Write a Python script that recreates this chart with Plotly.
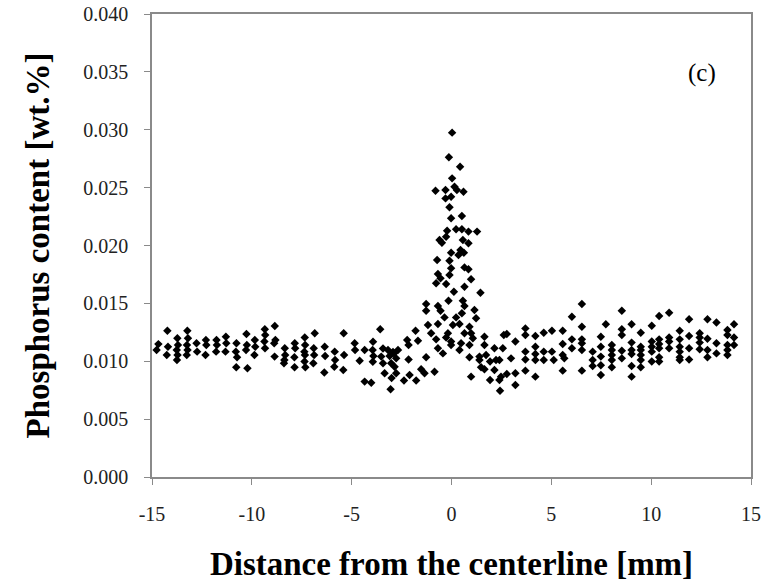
import plotly.graph_objects as go

# ---- data (distance [mm], phosphorus [wt.%]) ----
left_x = [-14.68, -14.77, -14.23, -14.20, -14.26, -13.73, -13.70, -13.76, -13.72, -13.75,
          -13.23, -13.20, -13.25, -13.22, -13.26, -12.77, -12.74, -12.30, -12.28, -12.32,
          -11.77, -11.75, -11.79, -11.30, -11.28, -11.32, -10.77, -10.80, -10.74, -10.78,
          -10.27, -10.25, -10.29, -10.22, -9.85, -9.83, -9.87, -9.35, -9.33, -9.37, -9.34,
          -8.85, -8.82, -8.88, -8.86, -8.35, -8.33, -8.37, -8.39, -7.85, -7.83, -7.87, -7.86,
          -7.35, -7.33, -7.37, -7.34, -7.36, -7.32]
left_y = [0.01148, 0.01097, 0.01264, 0.01126, 0.01054, 0.01198, 0.01140, 0.01097, 0.01054, 0.01011,
          0.01264, 0.01198, 0.01140, 0.01097, 0.01054, 0.01155, 0.01083, 0.01184, 0.01140, 0.01054,
          0.01184, 0.01140, 0.01083, 0.01212, 0.01155, 0.01083, 0.01155, 0.01083, 0.01034, 0.00948,
          0.01235, 0.01140, 0.01097, 0.00939, 0.01184, 0.01126, 0.01054, 0.01276, 0.01227, 0.01170, 0.01112,
          0.01305, 0.01184, 0.01155, 0.01040, 0.01112, 0.01054, 0.01011, 0.00982, 0.01155, 0.01112, 0.01034, 0.00948,
          0.01206, 0.01140, 0.01083, 0.01054, 0.00997, 0.00948]

mid_x = [-6.85, -6.90, -6.88, -6.92, -6.35, -6.33, -6.37, -5.85, -5.83, -5.87, -5.40, -5.38, -5.42,
         -4.85, -4.83, -4.35, -4.60, -4.35, -4.02, -3.93, -3.95, -3.91, -3.94, -3.52, -3.43, -3.35,
         -3.18, -3.10, -3.02, -2.88, -2.77, -2.85, -2.77, -2.68, -3.05, -2.38, -3.57,
         -3.43, -3.00, -2.93]
mid_y = [0.01241, 0.01112, 0.01054, 0.00982, 0.01126, 0.01045, 0.00902, 0.01083, 0.01011, 0.00953,
         0.01241, 0.01054, 0.00925, 0.01155, 0.01097, 0.01097, 0.01005, 0.00824, 0.00815, 0.01169,
         0.01097, 0.01045, 0.00996, 0.01040, 0.00982, 0.00896, 0.01097, 0.01045, 0.00982, 0.01068,
         0.01025, 0.00953, 0.00896, 0.01097, 0.00758, 0.00833, 0.01276, 0.01110, 0.00855, 0.01080]

peak_x = [0.03, -0.13, 0.43, 0.03, -0.80, -0.30, 0.15, 0.27, 0.60, -0.30, -0.02,
          -0.10, -0.02, 0.52, -0.22, 0.23, 0.52, 0.85, 1.28, -0.60, -0.48, -0.27, 0.57, 0.85,
          -0.02, 0.45, 0.62, 0.35, -0.72, -0.10, -0.02, 0.65, 0.85, -0.68, -0.55, -0.10, 0.98,
          -0.77, -0.27, 0.65, 0.12, 1.45, -1.27, -0.68, -0.15, 0.57, 0.65, -1.27, -0.55, 0.52,
          1.15, 1.23, -0.35, 0.23, -0.68, -1.18, 0.07, 0.40, 0.90, -1.80, -1.02, -0.18, 0.65,
          0.98, -0.27, -2.22, -1.68, -0.77, -0.02, 0.48, 1.07, 1.65, -2.15, -0.68, -0.02, 0.40,
          0.90, 1.65, 2.15, 2.57, -1.27, -0.43, 0.90, 1.40, 1.73, 2.62,
          -2.15, -2.10, -1.77, -1.52, -1.35, -0.85, 1.48, 1.65, 1.93, 2.15, 2.48, 2.40, 2.43,
          1.93, 0.98, 1.40, 2.23, 2.40]
peak_y = [0.02975, 0.02762, 0.02681, 0.02580, 0.02473, 0.02479, 0.02508, 0.02479, 0.02465, 0.02407, 0.02422,
          0.02330, 0.02235, 0.02255, 0.02128, 0.02140, 0.02140, 0.02120, 0.02120, 0.02048, 0.02024, 0.02076,
          0.02048, 0.02019, 0.01938, 0.01961, 0.01938, 0.01918, 0.01875, 0.01869, 0.01803, 0.01811, 0.01794,
          0.01754, 0.01716, 0.01745, 0.01708,
          0.01673, 0.01667, 0.01644, 0.01601, 0.01592, 0.01494, 0.01477, 0.01523, 0.01523, 0.01477, 0.01437,
          0.01437, 0.01414, 0.01443, 0.01371, 0.01379, 0.01379, 0.01321, 0.01313, 0.01313, 0.01321, 0.01298,
          0.01264, 0.01241, 0.01241, 0.01241, 0.01241, 0.01206, 0.01184, 0.01178, 0.01189, 0.01170, 0.01155,
          0.01198, 0.01212, 0.01140, 0.01112, 0.01140, 0.01097, 0.01140, 0.01140, 0.01112, 0.01112, 0.01034,
          0.01068, 0.01034, 0.01040, 0.01054, 0.01227,
          0.01016, 0.00882, 0.00833, 0.00930, 0.00896, 0.00910, 0.00948, 0.00930, 0.00997, 0.00925, 0.00867,
          0.00838, 0.00745, 0.00838, 0.00867, 0.01011, 0.01011, 0.01011]

right_x = [2.77, 2.98, 2.77, 3.20, 3.20, 3.20, 3.70, 3.70, 3.70, 3.70, 3.70, 4.20, 4.20, 4.20, 4.20, 4.20,
           4.62, 4.62, 4.62, 5.03, 5.03, 5.12, 5.57, 5.57, 5.57, 5.65, 5.57, 6.03, 6.03, 6.03,
           6.53, 6.53, 6.53, 6.53, 6.53, 6.53, 7.07, 7.07, 7.07,
           7.48, 7.48, 7.48, 7.48, 7.48, 7.73, 8.03, 8.03, 8.03, 8.03, 8.03,
           8.53, 8.53, 8.53, 8.53, 8.53, 9.02, 9.02, 9.02, 9.02, 9.02, 9.02,
           9.48, 9.48, 9.48, 9.48, 9.48, 9.48, 10.03, 10.03, 10.03, 10.03, 10.03,
           10.40, 10.40, 10.40, 10.40, 10.40, 10.40, 10.90, 10.90, 10.90, 10.90,
           11.43, 11.43, 11.43, 11.43, 11.43, 11.43, 11.90, 11.90, 11.90, 11.90,
           12.43, 12.43, 12.43, 12.43, 12.82, 12.82, 12.82, 12.82, 13.27, 13.27, 13.27,
           13.82, 13.82, 13.82, 13.82, 13.82, 14.15, 14.15, 14.15]
right_y = [0.01235, 0.01025, 0.00890, 0.01170, 0.00896, 0.00795, 0.01284, 0.01227, 0.01083, 0.01016, 0.00919,
           0.01218, 0.01126, 0.01063, 0.01011, 0.00867, 0.01247, 0.01083, 0.01011, 0.01264, 0.01083, 0.01011,
           0.01264, 0.01149, 0.01054, 0.01025, 0.00919, 0.01385, 0.01189, 0.01112,
           0.01494, 0.01298, 0.01189, 0.01155, 0.01097, 0.00919, 0.01083, 0.01011, 0.00959,
           0.01212, 0.01126, 0.01040, 0.00965, 0.00882, 0.01319, 0.01140, 0.01097, 0.01054, 0.01011, 0.00948,
           0.01437, 0.01276, 0.01227, 0.01091, 0.01025, 0.01319, 0.01161, 0.01097, 0.01063, 0.00959, 0.00867,
           0.01247, 0.01126, 0.01097, 0.01054, 0.01011, 0.00948, 0.01307, 0.01170, 0.01126, 0.01083, 0.00997,
           0.01391, 0.01189, 0.01149, 0.01112, 0.01034, 0.00997, 0.01419, 0.01206, 0.01170, 0.01112,
           0.01264, 0.01189, 0.01126, 0.01083, 0.01034, 0.01011, 0.01362, 0.01218, 0.01112, 0.01016,
           0.01241, 0.01206, 0.01161, 0.01103, 0.01362, 0.01195, 0.01097, 0.01034, 0.01334, 0.01155, 0.01068,
           0.01270, 0.01227, 0.01140, 0.01097, 0.01054, 0.01319, 0.01206, 0.01140]

x_ticks = [-15, -10, -5, 0, 5, 10, 15]
y_ticks = [0.000, 0.005, 0.010, 0.015, 0.020, 0.025, 0.030, 0.035, 0.040]

xs = left_x + mid_x + peak_x + right_x
ys = left_y + mid_y + peak_y + right_y

SERIF = "Liberation Serif, Times New Roman, serif"
AXIS_COLOR = "#8a8a8a"

fig = go.Figure(go.Scatter(
    x=xs, y=ys, mode="markers",
    marker=dict(symbol="diamond", size=6.5, color="black", line=dict(width=0)),
    showlegend=False,
))

fig.update_layout(
    width=763, height=587,
    margin=dict(l=152, r=12, t=14, b=110, autoexpand=False),
    paper_bgcolor="white", plot_bgcolor="white",
    font=dict(family=SERIF, color="#222222"),
    xaxis=dict(
        range=[-15, 15], tickvals=x_ticks, ticktext=[str(v) for v in x_ticks],
        automargin=False,
        showgrid=False, zeroline=False, showline=True, linecolor=AXIS_COLOR, linewidth=1.5,
        mirror=True, ticks="outside", ticklen=6, tickcolor=AXIS_COLOR, tickwidth=1,
        tickfont=dict(family=SERIF, size=20, color="#222222"), ticklabelstandoff=12,
        title=dict(text="<b>Distance from the centerline [mm]</b>",
                   font=dict(family=SERIF, size=33, color="black"), standoff=28),
    ),
    yaxis=dict(
        range=[0, 0.04], tickvals=y_ticks, ticktext=[f"{v:.3f}" for v in y_ticks],
        automargin=False,
        showgrid=False, zeroline=False, showline=True, linecolor=AXIS_COLOR, linewidth=1.5,
        mirror=True, ticks="outside", ticklen=6, tickcolor=AXIS_COLOR, tickwidth=1,
        tickfont=dict(family=SERIF, size=20, color="#222222"), ticklabelstandoff=12,
        title=dict(text="<b>Phosphorus content [wt.%]</b>",
                   font=dict(family=SERIF, size=33, color="black"), standoff=24),
    ),
    annotations=[dict(text="(c)", x=0.945, y=0.907, xref="paper", yref="paper",
                      showarrow=False, font=dict(family=SERIF, size=25, color="black"))],
)

fig.write_html("out.html")
